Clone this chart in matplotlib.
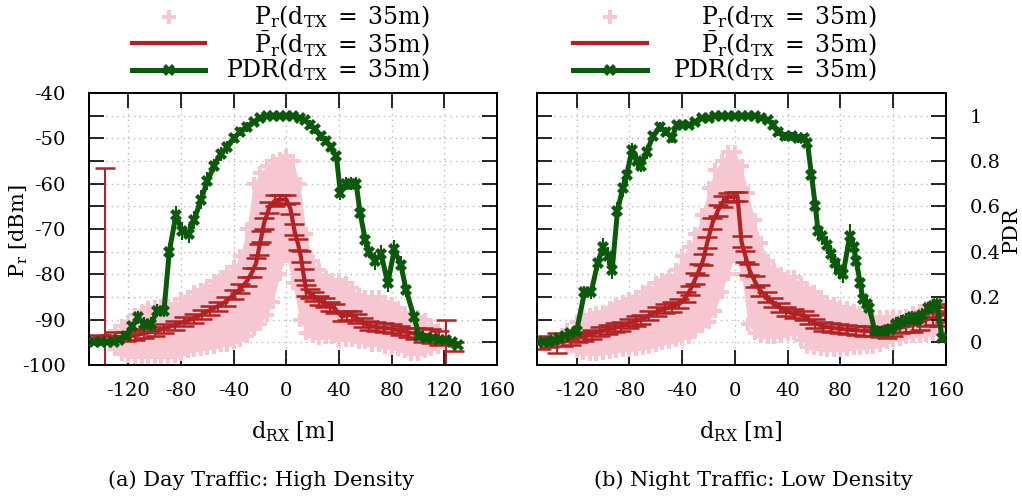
import numpy as np
import matplotlib
matplotlib.use('Agg')
import matplotlib.pyplot as plt
from matplotlib.lines import Line2D
from matplotlib.ticker import MultipleLocator, FixedLocator, FuncFormatter

plt.rcParams['font.family'] = ['DejaVu Serif']
plt.rcParams['mathtext.fontset'] = 'dejavuserif'
plt.rcParams['axes.unicode_minus'] = False
plt.rcParams['font.size'] = 14

# ---------------- data: (a) Day traffic ----------------
a_pink_x = [-130, -125, -120, -115, -110, -105, -100, -95, -90, -85, -80, -75, -70, -65, -60, -55, -50, -45,
            -40, -35, -30, -25, -20, -15, -10, -5, 0, 5, 10, 15, 20, 25, 30, 35, 40, 45, 50, 55, 60, 65, 70,
            75, 80, 85, 90, 95, 100, 105, 110, 115]
a_pink_lo = [-96.5, -97.5, -98, -98.2, -98.3, -98.3, -98.3, -98.3, -98.3, -98, -97.5, -97, -96.8, -96.5, -96.3,
             -96, -95.5, -95.5, -95, -94.5, -93.5, -92, -91, -89, -86, -80, -76, -82, -90, -93, -93.5, -94,
             -93.8, -93.8, -94.5, -94.5, -94.5, -95, -95, -95.5, -95.5, -96, -96.3, -96.5, -97, -97.5, -97.5,
             -97, -96.5, -96]
a_pink_hi = [-92.5, -91.5, -90.5, -89, -88, -87.5, -87.2, -87, -87, -86.5, -85.5, -85, -84, -83.5, -82.5, -81.5,
             -80.5, -79.5, -78.4, -76, -70, -60, -57.6, -56, -55, -54.5, -54, -55, -60, -71, -77, -79, -80.6,
             -81.2, -81.2, -82, -83, -84.5, -85, -85, -85, -86, -86.5, -87.5, -88.5, -89, -89.5, -90, -91.5, -92.3]

a_red_x = [-146, -138, -130, -122, -115, -108, -100, -93, -85, -78, -70, -64, -58, -52, -46, -40, -35, -30,
           -26, -23, -21, -19, -17, -13, -9, -5, 0, 3, 6, 9, 11, 13, 15, 18, 21, 25, 29, 33, 37, 42, 46, 50,
           54, 58, 63, 68, 74, 80, 86, 92, 98, 104, 110, 116, 121, 127]
a_red_y = [-94.3, -93.5, -93.8, -93.8, -93.5, -93.0, -92.6, -92.0, -91.2, -90.5, -89.7, -88.8, -87.9, -87.0,
           -86.0, -84.5, -83.2, -81.5, -79.5, -77.5, -74.5, -71.7, -68.7, -65.3, -63.8, -63.5, -63.5, -65.5,
           -70.2, -73.5, -76.1, -80.0, -83.5, -84.3, -84.9, -85.7, -86.3, -87.0, -87.6, -89.3, -89.0, -89.0,
           -89.8, -90.7, -91.3, -91.6, -91.8, -92.0, -92.4, -92.8, -93.1, -93.4, -93.6, -94.0, -95.0, -96.0]
a_red_err = [1.0, 37.0, 1.0, 1.0, 1.0, 1.0, 1.0, 1.0, 1.0, 1.0, 1.0, 1.0, 1.0, 1.0, 1.0, 1.0, 1.0, 1.0,
             1.0, 1.2, 1.2, 1.2, 1.2, 1.2, 1.2, 1.0, 1.0, 1.2, 1.2, 1.2, 1.2, 1.2, 1.2, 1.0, 1.0, 1.0, 1.0,
             1.0, 1.0, 1.0, 1.0, 1.0, 1.0, 1.0, 1.0, 1.0, 1.0, 1.0, 1.0, 1.0, 1.2, 1.5, 1.5, 1.5, 5.0, 1.0]

a_pdr_x = [-146, -141, -136, -131, -127, -122, -117, -113, -108, -103, -98, -93, -89, -84, -79, -74, -70, -65,
           -60, -55, -50, -45, -40, -35, -30, -25, -20, -15, -10, -5, 0, 5, 10, 14, 18, 22, 26, 30, 34, 38,
           41, 45, 49, 53, 56, 60, 63, 67, 72, 77, 82, 87, 91, 97, 101, 106, 111, 116, 121, 126, 130]
a_pdr_y = [0.00, 0.00, 0.00, 0.00, 0.01, 0.03, 0.07, 0.11, 0.08, 0.08, 0.14, 0.14, 0.40, 0.56, 0.49, 0.48,
           0.54, 0.63, 0.71, 0.78, 0.83, 0.86, 0.90, 0.93, 0.95, 0.97, 0.99, 1.00, 1.00, 1.00, 1.00, 1.00,
           0.99, 0.98, 0.96, 0.94, 0.91, 0.89, 0.86, 0.82, 0.66, 0.70, 0.70, 0.70, 0.57, 0.45, 0.40, 0.36,
           0.39, 0.26, 0.41, 0.34, 0.23, 0.11, 0.03, 0.02, 0.02, 0.01, 0.01, 0.00, -0.01]
a_pdr_err = [0.01, 0.01, 0.01, 0.01, 0.01, 0.02, 0.02, 0.03, 0.03, 0.03, 0.03, 0.03, 0.04, 0.04, 0.04, 0.04,
             0.04, 0.04, 0.04, 0.03, 0.03, 0.03, 0.02, 0.02, 0.02, 0.01, 0.01, 0.01, 0.01, 0.01, 0.01, 0.01,
             0.01, 0.01, 0.02, 0.02, 0.02, 0.02, 0.02, 0.02, 0.03, 0.03, 0.03, 0.03, 0.03, 0.03, 0.03, 0.04,
             0.04, 0.04, 0.04, 0.04, 0.03, 0.03, 0.02, 0.02, 0.01, 0.01, 0.01, 0.01, 0.01]

# ---------------- data: (b) Night traffic ----------------
b_pink_x = [-127, -120, -115, -110, -105, -100, -95, -90, -85, -80, -75, -70, -65, -60, -55, -50, -45, -40,
            -35, -30, -25, -20, -15, -10, -5, 0, 5, 10, 15, 20, 25, 30, 35, 40, 45, 50, 55, 60, 65, 70, 75,
            80, 85, 90, 95, 100, 105, 110, 115, 120, 125, 130, 135, 140, 145, 150, 155, 158]
b_pink_lo = [-96, -97, -97.4, -97.5, -97.5, -97.4, -97.2, -97, -96.8, -96.7, -96.5, -96.3, -96, -95.5, -95.2,
             -95, -94.5, -94, -93.8, -92.5, -91.5, -90.5, -88, -84, -80, -76, -80, -91, -93, -93.5, -93.8,
             -93.8, -93.5, -93.2, -93, -94.5, -96, -96.3, -96.5, -96.7, -96.7, -96.7, -96.5, -96.3, -96.2,
             -96, -96, -95.5, -95, -94.5, -94.2, -93.8, -93.6, -93.5, -93.3, -93.2, -93, -92]
b_pink_hi = [-92.3, -90.5, -89.5, -89, -88.5, -88.3, -87.5, -86.5, -86, -85.5, -85, -84, -83, -82, -81.2,
             -80.5, -79, -76, -74, -71, -67, -61, -57, -55, -53, -53, -56, -62, -68, -73, -77, -79, -80,
             -80.5, -80.6, -82, -83, -84, -85, -86, -86.5, -87.2, -87.5, -88, -88.5, -89, -89.4, -89.4,
             -89.5, -89.4, -89.4, -89.2, -88.5, -88, -87.5, -86.8, -86.3, -87]

b_red_x = [-147, -141, -135, -130, -124, -119, -114, -108, -102, -96, -91, -86, -80, -75, -71, -65, -59, -53,
           -48, -42, -37, -34, -30, -27, -24, -21, -17, -13, -9, -5, -1, 2, 5, 8, 11, 15, 19, 24, 29, 34,
           39, 45, 52, 56, 61, 67, 73, 79, 85, 92, 98, 105, 110, 115, 120, 125, 130, 135, 140, 145, 150,
           155, 159]
b_red_y = [-95.0, -95.0, -95.2, -94.9, -94.5, -94.0, -93.8, -93.2, -92.6, -92.2, -91.8, -91.5, -90.8, -90.3,
           -90.0, -89.1, -88.2, -87.6, -87.2, -86.5, -85.0, -83.5, -81.0, -79.0, -76.8, -73.0, -68.7, -66.0,
           -64.0, -63.0, -62.9, -62.9, -72.8, -76.0, -79.0, -81.5, -83.5, -85.0, -86.3, -87.3, -88.2, -88.7,
           -89.0, -90.0, -90.8, -91.5, -91.8, -92.0, -92.2, -92.3, -92.5, -92.6, -92.8, -92.9, -92.3, -91.8,
           -91.5, -91.2, -90.8, -90.0, -89.6, -89.3, -88.5]
b_red_err = [1.5, 1.0, 2.2, 1.0, 1.0, 1.0, 1.0, 1.0, 1.0, 1.0, 1.0, 1.0, 1.0, 1.0, 1.0, 1.0, 1.0, 1.0,
             1.0, 1.0, 1.0, 1.0, 1.2, 1.2, 1.2, 1.2, 1.2, 1.2, 1.2, 1.0, 1.0, 1.0, 1.2, 1.2, 1.2, 1.2, 1.2,
             1.0, 1.0, 1.0, 1.0, 1.0, 1.0, 1.0, 1.0, 1.0, 1.0, 1.0, 1.0, 1.0, 1.0, 1.0, 1.0, 1.2, 1.2, 1.2,
             1.2, 1.5, 1.5, 1.5, 1.5, 2.0, 2.0]

b_pdr_x = [-149, -145, -141, -137, -133, -129, -125, -120, -114, -109, -104, -100, -96, -93, -89, -85, -82,
           -78, -74, -71, -67, -62, -57, -52, -48, -44, -40, -35, -30, -25, -20, -15, -10, -5, 0, 5, 10, 15,
           20, 25, 29, 33, 38, 43, 48, 52, 55, 58, 61, 63, 66, 70, 73, 76, 79, 82, 87, 90, 92, 95, 97, 100,
           102, 106, 110, 114, 118, 122, 126, 130, 134, 138, 142, 146, 150, 153, 157]
b_pdr_y = [0.00, 0.00, 0.00, 0.01, 0.02, 0.03, 0.04, 0.05, 0.22, 0.22, 0.35, 0.42, 0.38, 0.32, 0.58, 0.68,
           0.74, 0.85, 0.80, 0.78, 0.84, 0.91, 0.95, 0.93, 0.90, 0.96, 0.96, 0.96, 0.97, 0.99, 0.99, 1.00,
           1.00, 1.00, 1.00, 1.00, 1.00, 1.00, 0.99, 0.98, 0.96, 0.93, 0.91, 0.91, 0.90, 0.90, 0.88, 0.74,
           0.60, 0.49, 0.47, 0.43, 0.39, 0.35, 0.32, 0.30, 0.47, 0.42, 0.36, 0.26, 0.19, 0.17, 0.15, 0.05,
           0.05, 0.05, 0.06, 0.08, 0.09, 0.10, 0.11, 0.10, 0.12, 0.15, 0.16, 0.17, 0.02]
b_pdr_err = [0.01, 0.01, 0.01, 0.01, 0.01, 0.01, 0.01, 0.02, 0.03, 0.03, 0.03, 0.04, 0.04, 0.04, 0.04, 0.04,
             0.04, 0.03, 0.03, 0.03, 0.03, 0.02, 0.02, 0.02, 0.02, 0.01, 0.01, 0.01, 0.01, 0.01, 0.01, 0.01,
             0.01, 0.01, 0.01, 0.01, 0.01, 0.01, 0.01, 0.01, 0.02, 0.02, 0.02, 0.02, 0.02, 0.02, 0.02, 0.04,
             0.04, 0.04, 0.04, 0.04, 0.04, 0.04, 0.04, 0.04, 0.05, 0.04, 0.04, 0.04, 0.03, 0.03, 0.03, 0.02,
             0.02, 0.02, 0.02, 0.03, 0.03, 0.03, 0.03, 0.03, 0.03, 0.03, 0.03, 0.03, 0.02]

x_ticks = [-120, -80, -40, 0, 40, 80, 120, 160]
captions = ['(a) Day Traffic: High Density', '(b) Night Traffic: Low Density']
leg_labels = [r'$\mathrm{P_r(d_{TX}\;=\;35m)}$', r'$\mathrm{\bar{P}_r(d_{TX}\;=\;35m)}$',
              r'$\mathrm{PDR(d_{TX}\;=\;35m)}$']

PINK = '#f6c6d1'
RED = '#b22222'
GREEN = '#0b5a0b'
GRID = '#b8b8b8'

W, H = 1022, 497
fig = plt.figure(figsize=(W / 100, H / 100), dpi=100)


def fx(p):
    return p / W


def fy(p):
    return 1 - p / H


def panel(left_px, right_px, pink, red, pdr, show_left, show_right):
    ax = fig.add_axes([fx(left_px), fy(365), fx(right_px - left_px), (365 - 93) / H])
    ax.set_xlim(-150, 160)
    ax.set_ylim(-100, -40)
    ax.set_axisbelow(True)
    ax.xaxis.set_major_locator(FixedLocator(x_ticks))
    ax.yaxis.set_major_locator(MultipleLocator(10))
    ax.yaxis.set_minor_locator(MultipleLocator(5))
    ax.grid(axis='x', which='major', color=GRID, linestyle=(0, (1, 3)), linewidth=1.0)
    ax.grid(axis='y', which='both', color=GRID, linestyle=(0, (1, 3)), linewidth=1.0)
    ax.tick_params(axis='both', which='both', direction='in', length=11, width=1.2, top=True,
                   labelleft=show_left, labelsize=14)
    ax.tick_params(axis='x', pad=12)
    ax.tick_params(axis='y', pad=17)
    for s in ax.spines.values():
        s.set_linewidth(1.3)

    px, plo, phi = pink
    ax.fill_between(px, plo, phi, color=PINK, linewidth=0, zorder=1)
    ax.plot(px, plo, 'P', color=PINK, ms=10, mew=0, zorder=1)
    ax.plot(px, phi, 'P', color=PINK, ms=10, mew=0, zorder=1)

    rx, ry, re = red
    ax.errorbar(rx, ry, yerr=re, color=RED, lw=3, elinewidth=1.5, ecolor=RED, capsize=7, capthick=1.8,
                zorder=3)

    ax2 = ax.twinx()
    ax2.set_ylim(-0.1, 1.1)
    ax2.yaxis.set_major_locator(FixedLocator([0, 0.2, 0.4, 0.6, 0.8, 1.0]))
    ax2.yaxis.set_minor_locator(FixedLocator([0.1, 0.3, 0.5, 0.7, 0.9]))
    ax2.yaxis.set_major_formatter(FuncFormatter(lambda v, p: '%g' % round(v, 1)))
    ax2.tick_params(axis='y', which='both', direction='in', length=11, width=1.2, pad=17,
                    labelright=show_right, labelsize=14)
    gx, gy, ge = pdr
    ax2.errorbar(gx, gy, yerr=ge, color=GREEN, lw=3.6, marker='X', ms=8, mew=0, ecolor=GREEN,
                 elinewidth=1.5, capsize=7, capthick=1.8, zorder=4)
    for s in ax2.spines.values():
        s.set_linewidth(1.3)
    return ax, ax2


panel(89, 497, (a_pink_x, a_pink_lo, a_pink_hi), (a_red_x, a_red_y, a_red_err),
      (a_pdr_x, a_pdr_y, a_pdr_err), True, False)
panel(537, 946, (b_pink_x, b_pink_lo, b_pink_hi), (b_red_x, b_red_y, b_red_err),
      (b_pdr_x, b_pdr_y, b_pdr_err), False, True)

# axis labels
fig.text(fx(19), fy(231), r'$\mathrm{P_r}$ [dBm]', rotation=90, ha='center', va='center', fontsize=15)
fig.text(fx(1011), fy(230), 'PDR', rotation=90, ha='center', va='center', fontsize=15)
for cx in (293, 741):
    fig.text(fx(cx), fy(432), r'$\mathrm{d_{RX}}$ [m]', ha='center', va='center', fontsize=16)
fig.text(fx(261), fy(480), captions[0], ha='center', va='center', fontsize=15)
fig.text(fx(753), fy(480), captions[1], ha='center', va='center', fontsize=15)

# legends (gnuplot style: sample left, text right-aligned)
rows = [17, 43, 70]
for (s0, s1, tr) in [(132, 205, 430), (573, 647, 877)]:
    mid = (s0 + s1) / 2
    fig.add_artist(Line2D([fx(mid)], [fy(rows[0])], marker='P', ms=10, mew=0, color=PINK, linestyle='none'))
    fig.add_artist(Line2D([fx(s0), fx(s1)], [fy(rows[1])] * 2, color=RED, lw=3))
    fig.add_artist(Line2D([fx(s0), fx(s1)], [fy(rows[2])] * 2, color=GREEN, lw=3.6))
    fig.add_artist(Line2D([fx(mid)], [fy(rows[2])], marker='X', ms=8, mew=0, color=GREEN, linestyle='none'))
    for r, lab in zip(rows, leg_labels):
        fig.text(fx(tr), fy(r), lab, ha='right', va='center', fontsize=17)

fig.savefig('out.png', dpi=100)
